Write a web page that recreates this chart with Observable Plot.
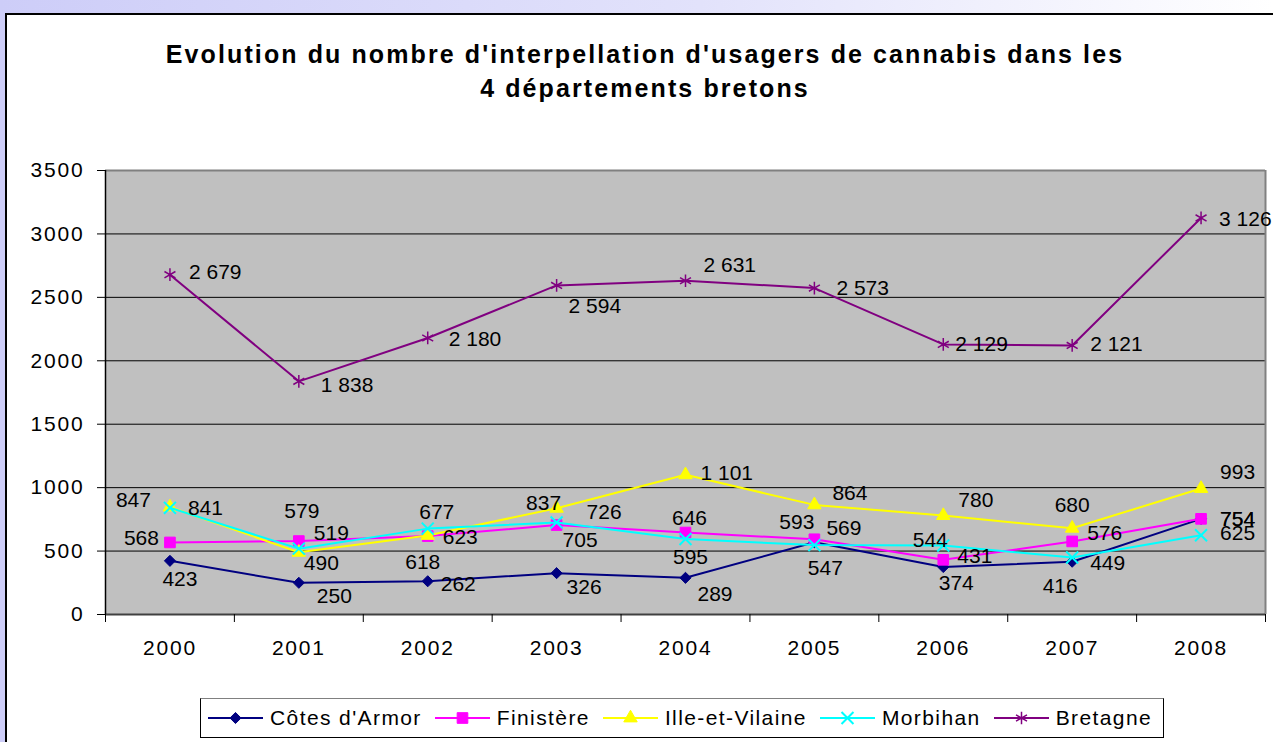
<!DOCTYPE html>
<html>
<head>
<meta charset="utf-8">
<script src="https://cdn.jsdelivr.net/npm/d3@7"></script>
<script src="https://cdn.jsdelivr.net/npm/@observablehq/plot@0.6"></script>
<style>
html, body { margin: 0; padding: 0; }
body {
  width: 1273px; height: 742px; overflow: hidden; position: relative;
  background: linear-gradient(to right, #cdcdf8 0%, #e2e2fb 55%, #ffffff 100%);
  font-family: "Liberation Sans", Arial, sans-serif;
}
#card {
  position: absolute; left: 5px; top: 13px; width: 1300px; height: 760px;
  background: #fff; border-top: 2px solid #000; border-left: 2px solid #000;
  box-sizing: border-box;
}
#title {
  position: absolute; left: 0; top: 37px; width: 1290px; text-align: center;
  font-weight: bold; font-size: 25px; letter-spacing: 2.1px; line-height: 34px; color: #000;
}
#chart { position: absolute; left: 0; top: 0; }
#legend {
  position: absolute; left: 200px; top: 698px; width: 964px; height: 40px;
  border: 1px solid #000; border-top-color: #808080; box-sizing: border-box; background: #fff;
  display: flex; flex-wrap: nowrap; align-items: center; padding-left: 7px;
  font-size: 21px; letter-spacing: 1.4px; color: #000; white-space: nowrap; overflow: hidden;
}
.item { display: flex; align-items: center; margin-right: 13px; flex: 0 0 auto; white-space: nowrap; }
.item svg { margin-right: 7px; flex: 0 0 auto; }
</style>
</head>
<body>
<div id="card"></div>
<div id="chart"></div>
<div id="title">Evolution du nombre d'interpellation d'usagers de cannabis dans les<br>4 départements bretons</div>
<div id="legend"></div>
<script>
// ---- data ----
const years = [2000, 2001, 2002, 2003, 2004, 2005, 2006, 2007, 2008];
const seriesNames = ["Côtes d'Armor", "Finistère", "Ille-et-Vilaine", "Morbihan", "Bretagne"];
const cotesArmor = [423, 250, 262, 326, 289, 569, 374, 416, 754];
const finistere = [568, 579, 618, 705, 646, 593, 431, 576, 754];
const illeEtVilaine = [847, 490, 623, 837, 1101, 864, 780, 680, 993];
const morbihan = [841, 519, 677, 726, 595, 547, 544, 449, 625];
const bretagne = [2679, 1838, 2180, 2594, 2631, 2573, 2129, 2121, 3126];
const yTicks = [0, 500, 1000, 1500, 2000, 2500, 3000, 3500];
const values = [cotesArmor, finistere, illeEtVilaine, morbihan, bretagne];

// ---- styles (per series) ----
const styles = [
  {color: "#000080", symbol: "diamond2", r: 5, fill: "#000080", stroke: "#000080", sw: 1},
  {color: "#ff00ff", symbol: "square", r: 6, fill: "#ff00ff", stroke: "#ff00ff", sw: 1},
  {color: "#ffff00", symbol: "triangle", r: 5, fill: "#ffff00", stroke: "#ffff00", sw: 1},
  {color: "#00ffff", symbol: "times", r: 5.5, fill: "none", stroke: "#00ffff", sw: 2},
  {color: "#800080", symbol: "asterisk", r: 6, fill: "none", stroke: "#800080", sw: 1.5}
];

// ---- data label placement (anchor, dx, dy), per series per year ----
const labelLayout = [
  [["middle",10,18],["start",18,13],["start",13,3],["start",10,14],["start",12,16],["start",12,-14],["middle",13,16],["middle",-12,25],["start",19,0]],
  [["end",-11,-4],["middle",3,-30],["middle",-5,26],["start",6,15],["middle",4,-14],["end",0,-17],["start",14,-4],["start",15,-8],["start",19,0]],
  [["end",-19,-7],["start",5,11],["start",15,2],["middle",-13,-5],["start",15,-2],["start",18,-12],["start",15,-15],["middle",0,-23],["start",19,-16]],
  [["start",18,0],["start",15,-15],["middle",9,-16],["start",30,-10],["middle",5,18],["middle",11,23],["middle",-13,-5],["start",18,6],["start",19,-2]],
  [["start",19,-2],["start",22,4],["start",21,1],["start",12,21],["start",18,-15],["start",22,0],["start",12,0],["start",18,-1],["start",18,1]]
];

const fmt = v => d3.format(",")(v).replace(/,/g, " ");
const boundaries = years.map(d => d - 0.5).concat([years[years.length - 1] + 0.5]);

const marks = [
  Plot.frame({fill: "#c0c0c0", stroke: null}),
  Plot.ruleY(yTicks.slice(1, -1), {stroke: "#000", strokeWidth: 1}),
  Plot.ruleY([yTicks[yTicks.length - 1]], {stroke: "#808080", strokeWidth: 2}),
  Plot.ruleX([boundaries[boundaries.length - 1]], {stroke: "#808080", strokeWidth: 2}),
  Plot.ruleY([yTicks[0]], {stroke: "#404040", strokeWidth: 2}),
  Plot.ruleX([boundaries[0]], {stroke: "#000", strokeWidth: 1.5}),
  Plot.axisY(yTicks, {tickSize: 8, tickPadding: 13, tickFormat: d => String(d), label: null}),
  Plot.axisX(boundaries, {tickSize: 8, tickFormat: () => "", label: null}),
  Plot.axisX(years, {tickSize: 0, tickPadding: 26, tickFormat: d => String(d), label: null})
];

const rowsOf = i => years.map((year, j) => ({year, value: values[i][j], j}));

values.forEach((_, i) => {
  const s = styles[i];
  marks.push(Plot.line(rowsOf(i), {x: "year", y: "value", stroke: s.color, strokeWidth: 2}));
  marks.push(Plot.dot(rowsOf(i), {x: "year", y: "value", symbol: s.symbol, r: s.r, fill: s.fill, stroke: s.stroke, strokeWidth: s.sw}));
});

values.forEach((_, i) => {
  rowsOf(i).forEach(d => {
    const [anchor, dx, dy] = labelLayout[i][d.j];
    marks.push(Plot.text([d], {x: "year", y: "value", text: r => fmt(r.value), textAnchor: anchor, dx, dy, fill: "#000"}));
  });
});

const chart = Plot.plot({
  width: 1273,
  height: 742,
  marginLeft: 105,
  marginRight: 8,
  marginTop: 170,
  marginBottom: 128,
  x: {type: "linear", domain: [boundaries[0], boundaries[boundaries.length - 1]]},
  y: {domain: [yTicks[0], yTicks[yTicks.length - 1]]},
  style: {
    fontFamily: "'Liberation Sans', Arial, sans-serif",
    fontSize: "21px",
    background: "transparent",
    overflow: "visible",
    color: "#000"
  },
  marks
});
d3.select(chart).selectAll('g[aria-label="y-axis tick label"], g[aria-label="x-axis tick label"]')
  .style("letter-spacing", "1.8px");
document.getElementById("chart").appendChild(chart);

// ---- legend ----
const symMap = {diamond2: d3.symbolDiamond2, square: d3.symbolSquare, triangle: d3.symbolTriangle, times: d3.symbolTimes, asterisk: d3.symbolAsterisk};
const legend = d3.select("#legend");
seriesNames.forEach((name, i) => {
  const s = styles[i];
  const item = legend.append("div").attr("class", "item");
  const svg = item.append("svg").attr("width", 55).attr("height", 20);
  svg.append("line").attr("x1", 0).attr("x2", 55).attr("y1", 10).attr("y2", 10).attr("stroke", s.color).attr("stroke-width", 2);
  svg.append("path")
    .attr("transform", "translate(27.5,10)")
    .attr("d", d3.symbol(symMap[s.symbol], Math.PI * s.r * s.r)())
    .attr("fill", s.fill).attr("stroke", s.stroke).attr("stroke-width", s.sw);
  item.append("span").text(name);
});
</script>
</body>
</html>
